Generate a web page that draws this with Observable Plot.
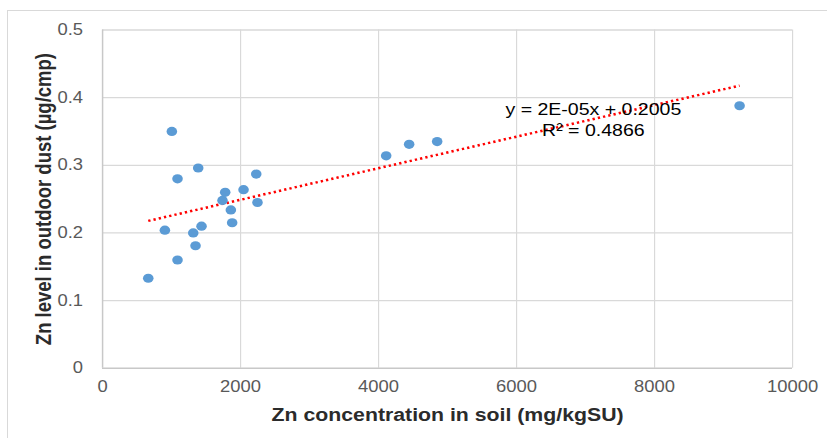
<!DOCTYPE html>
<html><head><meta charset="utf-8">
<script src="https://cdn.jsdelivr.net/npm/d3@7"></script>
<script src="https://cdn.jsdelivr.net/npm/@observablehq/plot@0.6"></script>
<style>
html,body{margin:0;padding:0;background:#fff;overflow:hidden}
#wrap{position:relative;width:827px;height:438px;overflow:hidden}
#frame{position:absolute;left:7px;top:10px;width:900px;height:600px;border:1px solid #d9d9d9;pointer-events:none}
#chart svg [aria-label="x-axis label"] text, #chart svg [aria-label="y-axis label"] text{font-weight:bold;fill:#2b2b2b;font-size:18.5px}
</style></head>
<body><div id="wrap"><div id="chart"></div><div id="frame"></div></div>
<script>
// Data
const soilZn = [662, 903, 1004, 1086, 1086, 1314, 1347, 1386, 1434, 1738, 1777, 1859, 1878, 2043, 2227, 2245, 4110, 4443, 4849, 9232];
const dustZn = [0.133, 0.204, 0.350, 0.280, 0.160, 0.200, 0.181, 0.296, 0.210, 0.248, 0.260, 0.234, 0.215, 0.264, 0.287, 0.245, 0.314, 0.331, 0.335, 0.388];
const xTicks = [0, 2000, 4000, 6000, 8000, 10000];
const yTicks = [0, 0.1, 0.2, 0.3, 0.4, 0.5];
const xTitle = "Zn concentration in soil (mg/kgSU)";
const yTitle = "Zn level in outdoor dust (µg/cmp)";
const eqLines = ["y = 2E-05x + 0.2005", "R² = 0.4866"];
const eqX = [7113, 7113];
const eqY = [0.382, 0.3516];

const points = soilZn.map((x, i) => ({x, y: dustZn[i]}));
const eq = eqLines.map((t, i) => ({t, x: eqX[i], y: eqY[i]}));

const S = 1.15; // horizontal stretch of the reference
const W = 827 / S, H = 438;

const chart = Plot.plot({
  width: W, height: H,
  marginLeft: 88.7, marginRight: W - 688.7, marginTop: 29.5, marginBottom: 70.3,
  style: {fontFamily: "'Liberation Sans', Arial, sans-serif", fontSize: "16px", color: "#595959", background: "#fff"},
  x: {domain: [0, 10000]},
  y: {domain: [0, 0.5]},
  marks: [
    Plot.ruleX(xTicks.slice(1), {stroke: "#d9d9d9", strokeWidth: 1, strokeOpacity: 1}),
    Plot.ruleY(yTicks.slice(1), {stroke: "#d9d9d9", strokeWidth: 1.3, strokeOpacity: 1}),
    Plot.ruleX([0], {stroke: "#c8c8c8", strokeWidth: 1.3, strokeOpacity: 1}),
    Plot.ruleY([0], {stroke: "#c8c8c8", strokeWidth: 1.6, strokeOpacity: 1}),
    Plot.axisX({ticks: xTicks, tickFormat: d => String(d), tickSize: 0, tickPadding: 12,
      label: xTitle, labelAnchor: "center", labelOffset: 53, labelArrow: "none", fontSize: 16}),
    Plot.axisY({ticks: yTicks, tickFormat: d => String(d), tickSize: 0, tickPadding: 17,
      label: yTitle, labelAnchor: "center", labelOffset: 58, labelArrow: "none", fontSize: 16}),
    Plot.linearRegressionY(points, {x: "x", y: "y", ci: 0, stroke: "#ff0000", strokeWidth: 2.5,
      strokeDasharray: "2,2.7", strokeLinecap: "butt"}),
    Plot.dot(points, {x: "x", y: "y", r: 4.6, fill: "#5b9bd5", stroke: "none"}),
    Plot.text(eq, {x: "x", y: "y", text: "t", fontSize: 17, fill: "#000", textAnchor: "middle"})
  ]
});
chart.setAttribute("viewBox", `0 0 ${W} ${H}`);
chart.setAttribute("width", 827);
chart.setAttribute("height", 438);
chart.setAttribute("preserveAspectRatio", "none");
chart.style.width = "827px";
chart.style.height = "438px";
chart.style.maxWidth = "none";
document.getElementById("chart").appendChild(chart);
</script>
</body></html>
